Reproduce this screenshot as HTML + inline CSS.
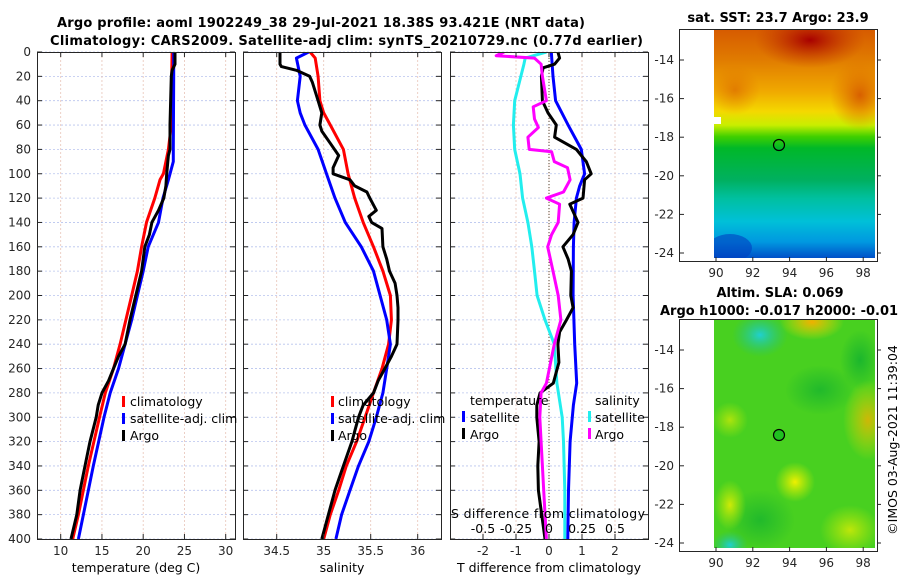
<!DOCTYPE html>
<html><head><meta charset="utf-8">
<style>
html,body{margin:0;padding:0;background:#fff;}
svg{display:block;font-family:"DejaVu Sans","Liberation Sans",sans-serif;}
.tk{font-size:12px;fill:#262626;}
.tt{font-size:13px;font-weight:bold;fill:#000;}
.lg{font-size:12.5px;fill:#000;}
</style></head>
<body>
<svg id="chart" width="900" height="580" viewBox="0 0 900 580" xmlns="http://www.w3.org/2000/svg">
<defs>
<clipPath id="c1"><rect x="37" y="52" width="198" height="487"/></clipPath>
<clipPath id="c2"><rect x="243" y="52" width="198" height="487"/></clipPath>
<clipPath id="c3"><rect x="450" y="52" width="198" height="487"/></clipPath>
<linearGradient id="sstg" x1="0" y1="0" x2="0" y2="1">
<stop offset="0" stop-color="#d65a00"/><stop offset="0.13" stop-color="#e07a00"/>
<stop offset="0.27" stop-color="#f0a800"/><stop offset="0.36" stop-color="#f4d800"/>
<stop offset="0.42" stop-color="#c8ee00"/><stop offset="0.47" stop-color="#40d000"/>
<stop offset="0.52" stop-color="#00b828"/><stop offset="0.66" stop-color="#00b060"/>
<stop offset="0.74" stop-color="#00c0a0"/><stop offset="0.84" stop-color="#00c0d8"/>
<stop offset="0.93" stop-color="#0098e0"/><stop offset="1" stop-color="#0050c8"/>
</linearGradient>
<radialGradient id="redb"><stop offset="0" stop-color="#a80000"/><stop offset="1" stop-color="#c03000" stop-opacity="0"/></radialGradient>
<radialGradient id="orb"><stop offset="0" stop-color="#d86000"/><stop offset="1" stop-color="#e07000" stop-opacity="0"/></radialGradient>
<radialGradient id="yb"><stop offset="0" stop-color="#f0f000"/><stop offset="1" stop-color="#d0f000" stop-opacity="0"/></radialGradient>
<radialGradient id="ob"><stop offset="0" stop-color="#f0b000"/><stop offset="1" stop-color="#f0e000" stop-opacity="0"/></radialGradient>
<radialGradient id="cb"><stop offset="0" stop-color="#20d0d0"/><stop offset="1" stop-color="#20c080" stop-opacity="0"/></radialGradient>
<radialGradient id="gb"><stop offset="0" stop-color="#10b030"/><stop offset="1" stop-color="#10b030" stop-opacity="0"/></radialGradient>
<clipPath id="m1"><rect x="714" y="29" width="161" height="229"/></clipPath>
<clipPath id="m2"><rect x="714" y="319" width="161" height="229"/></clipPath>
</defs>

<text class="tt" x="57" y="27" textLength="528">Argo profile: aoml 1902249_38 29-Jul-2021 18.38S 93.421E (NRT data)</text>
<text class="tt" x="50" y="45" textLength="593">Climatology: CARS2009. Satellite-adj clim: synTS_20210729.nc (0.77d earlier)</text>

<g id="grid"></g>
<g id="series"></g>
<g id="axes"></g>

<!-- legends -->
<g>
<rect x="122" y="396" width="3" height="11" fill="#f00"/><text class="lg" x="130" y="406">climatology</text>
<rect x="122" y="413" width="3" height="11" fill="#00f"/><text class="lg" x="130" y="423">satellite-adj. clim</text>
<rect x="122" y="430" width="3" height="11" fill="#000"/><text class="lg" x="130" y="440">Argo</text>
</g>
<g>
<rect x="331" y="396" width="3" height="11" fill="#f00"/><text class="lg" x="338" y="406">climatology</text>
<rect x="331" y="413" width="3" height="11" fill="#00f"/><text class="lg" x="338" y="423">satellite-adj. clim</text>
<rect x="331" y="430" width="3" height="11" fill="#000"/><text class="lg" x="338" y="440">Argo</text>
</g>
<g>
<text class="lg" x="470" y="405">temperature</text>
<rect x="462" y="411" width="3" height="11" fill="#00f"/><text class="lg" x="470" y="422">satellite</text>
<rect x="462" y="428" width="3" height="11" fill="#000"/><text class="lg" x="470" y="439">Argo</text>
<text class="lg" x="595" y="405">salinity</text>
<rect x="588" y="411" width="3" height="11" fill="#2ee"/><text class="lg" x="595" y="422">satellite</text>
<rect x="588" y="428" width="3" height="11" fill="#f0f"/><text class="lg" x="595" y="439">Argo</text>
</g>
<text class="lg" x="451" y="518" textLength="194">S difference from climatology</text>

<text class="lg" x="136" y="572" text-anchor="middle">temperature (deg C)</text>
<text class="lg" x="342" y="572" text-anchor="middle">salinity</text>
<text class="lg" x="549" y="572" text-anchor="middle">T difference from climatology</text>

<!-- maps -->
<g>
<text class="tt" x="778" y="22" text-anchor="middle">sat. SST: 23.7 Argo: 23.9</text>
<g clip-path="url(#m1)">
<rect x="714" y="29" width="161" height="229" fill="url(#sstg)"/>
<ellipse cx="810" cy="40" rx="55" ry="28" fill="url(#redb)"/>
<ellipse cx="860" cy="95" rx="30" ry="35" fill="url(#orb)"/>
<ellipse cx="735" cy="90" rx="25" ry="25" fill="url(#orb)" opacity="0.6"/>
<ellipse cx="730" cy="248" rx="22" ry="14" fill="#0040c0" opacity="0.6"/>
</g>
<rect x="714" y="117" width="7" height="7" fill="#fff"/>
<circle cx="779" cy="145" r="5.5" fill="none" stroke="#000" stroke-width="1.2"/>
<rect x="679.5" y="29.5" width="198" height="232" fill="none" stroke="#262626"/>
</g>
<g>
<text class="tt" x="780" y="297" text-anchor="middle">Altim. SLA: 0.069</text>
<text class="tt" x="660" y="315">Argo h1000: -0.017 h2000: -0.01</text>
<g clip-path="url(#m2)">
<rect x="714" y="319" width="161" height="229" fill="#48d020"/>
<ellipse cx="820" cy="390" rx="35" ry="25" fill="url(#gb)" opacity="0.7"/>
<ellipse cx="760" cy="520" rx="35" ry="30" fill="url(#gb)" opacity="0.7"/>
<ellipse cx="860" cy="360" rx="20" ry="30" fill="url(#gb)" opacity="0.8"/>
<ellipse cx="760" cy="335" rx="28" ry="22" fill="url(#cb)"/>
<ellipse cx="730" cy="545" rx="18" ry="14" fill="url(#cb)"/>
<ellipse cx="812" cy="322" rx="32" ry="18" fill="url(#ob)"/>
<ellipse cx="868" cy="420" rx="25" ry="40" fill="url(#ob)" opacity="0.8"/>
<ellipse cx="795" cy="482" rx="20" ry="20" fill="url(#yb)"/>
<ellipse cx="730" cy="505" rx="16" ry="25" fill="url(#yb)" opacity="0.8"/>
<ellipse cx="850" cy="530" rx="30" ry="25" fill="url(#yb)" opacity="0.7"/>
<ellipse cx="730" cy="420" rx="18" ry="18" fill="url(#yb)" opacity="0.6"/>
</g>
<circle cx="779" cy="435" r="5.5" fill="#20c020" stroke="#000" stroke-width="1.2"/>
<rect x="679.5" y="319.5" width="198" height="232" fill="none" stroke="#262626"/>
</g>
<g id="mapaxes"></g>
<text class="lg" transform="translate(897,440) rotate(-90)" text-anchor="middle">©IMOS 03-Aug-2021 11:39:04</text>

<script>
// ---- data ----
const depthTicks = [0,20,40,60,80,100,120,140,160,180,200,220,240,260,280,300,320,340,360,380,400];
const tTicks = [10,15,20,25,30];
const sTicks = [34.5,35,35.5,36];
const dTTicks = [-2,-1,0,1,2];
const dSTicks = [-0.5,-0.25,0,0.25,0.5];
const dSTickLabels = ["-0.5","-0.25","0","0.25","0.5"];

const tClimDepth = [0,20,60,80,100,105,120,140,160,180,200,240,260,280,300,340,380,400];
const tClim = [23.5,23.45,23.4,23.05,22.45,22.04,21.4,20.4,19.8,19.3,18.6,17.2,16.4,15.4,14.7,13.35,12.15,11.45];
const tSatDepth = [0,20,80,90,100,105,120,140,160,180,200,220,240,260,280,300,340,380,400];
const tSat = [23.7,23.7,23.65,23.65,23.25,23.05,22.4,21.85,20.6,20.0,19.3,18.6,17.8,17.0,16.0,15.25,13.95,12.75,12.15];
const tArgoDepth = [0,10,15,20,60,80,85,100,110,120,130,140,150,160,180,200,220,240,250,260,270,280,290,300,320,340,360,380,400];
const tArgo = [23.85,23.85,23.5,23.4,23.25,23.25,23.05,22.85,22.75,22.5,21.85,21.05,20.75,20.2,19.8,19.1,18.4,17.8,17.0,16.4,15.8,15.0,14.55,14.3,13.55,12.95,12.35,11.95,11.25];

const sClimDepth = [0,5,20,40,50,60,80,100,120,140,160,180,200,220,240,260,280,300,320,340,360,380,400];
const sClim = [34.855,34.91,34.94,34.96,35.0,35.07,35.21,35.26,35.33,35.42,35.53,35.63,35.71,35.72,35.69,35.62,35.53,35.44,35.35,35.24,35.16,35.07,35.0];
const sSatDepth = [0,5,20,40,50,60,80,100,120,140,160,180,200,220,240,260,280,300,320,340,360,380,400];
const sSat = [34.84,34.71,34.75,34.72,34.75,34.8,34.94,35.03,35.12,35.23,35.4,35.53,35.6,35.67,35.71,35.67,35.63,35.56,35.48,35.37,35.28,35.19,35.13];
const sArgoDepth = [0,10,12,15,20,25,40,50,60,65,75,85,95,100,105,110,115,120,130,135,140,145,160,170,180,190,200,210,220,240,250,260,270,280,290,300,320,340,360,380,400];
const sArgo = [34.535,34.535,34.55,34.71,34.85,34.88,34.94,34.98,34.96,34.98,35.07,35.16,35.1,35.1,35.28,35.33,35.46,35.49,35.56,35.48,35.51,35.62,35.63,35.67,35.7,35.76,35.78,35.79,35.79,35.78,35.72,35.65,35.58,35.53,35.42,35.37,35.3,35.21,35.12,35.05,34.98];

const dTArgoDepth = [0,5,10,13,20,40,50,60,70,80,85,90,100,105,120,125,140,150,160,170,180,200,210,220,230,240,255,265,272,280,290,300,320,340,360,380,400];
const dTArgo = [0.27,0.32,0.17,-0.18,-0.23,-0.2,-0.03,0.22,0.17,0.83,0.98,1.13,1.28,1.08,1.03,0.63,0.88,0.73,0.42,0.58,0.68,0.66,0.73,0.53,0.32,0.27,0.3,0.2,0.13,-0.27,-0.37,-0.37,-0.3,-0.34,-0.32,-0.22,-0.12];
const dTSatDepth = [0,20,40,60,80,100,110,120,140,160,200,240,272,290,320,360,400];
const dTSat = [0.07,0.12,0.2,0.58,0.98,1.08,0.93,0.83,0.76,0.74,0.73,0.78,0.84,0.74,0.64,0.59,0.57];
const dSSatDepth = [0,5,10,40,60,80,100,120,140,160,180,200,220,240,272,300,320,360,400];
const dSSat = [-0.02,-0.18,-0.19,-0.26,-0.27,-0.26,-0.22,-0.2,-0.16,-0.13,-0.11,-0.09,-0.03,0.04,0.06,0.1,0.11,0.12,0.12];
const dSArgoDepth = [0,3,5,10,20,40,45,55,62,70,80,82,90,95,105,115,120,125,140,150,160,180,200,220,240,272,280,300,320,360,400];
const dSArgo = [-0.34,-0.4,-0.11,-0.06,-0.05,-0.02,-0.12,-0.11,-0.08,-0.16,-0.15,0.02,0.04,0.14,0.16,0.11,-0.02,0.08,0.07,0.02,-0.01,0.03,0.07,0.09,0.04,-0.02,-0.06,-0.07,-0.06,-0.04,-0.02];

const lonTicks = [90,92,94,96,98];
const latTicks = [-14,-16,-18,-20,-22,-24];

// ---- scales ----
const NS = "http://www.w3.org/2000/svg";
const yD = d => 52 + d * 487 / 400;
const xT = t => 60.7 + (t - 10) * 8.25;
const xS = s => 276.7 + (s - 34.5) * 94;
const xDT = t => 549 + t * 33;
const xDS = s => 549 + s * 132;
const xLon = l => 716 + (l - 90) * 18.4;
const yLat1 = l => 60 + (-14 - l) * 19.3;
const yLat2 = l => 350 + (-14 - l) * 19.3;

function mk(tag, attrs, parent, txt) {
  const e = document.createElementNS(NS, tag);
  for (const k in attrs) e.setAttribute(k, attrs[k]);
  if (txt !== undefined) e.textContent = txt;
  parent.appendChild(e);
  return e;
}
const grid = document.getElementById('grid');
const series = document.getElementById('series');
const axes = document.getElementById('axes');
const panels = [
  {x0:37, ticks:tTicks, sx:xT, labels:tTicks.map(String)},
  {x0:243, ticks:sTicks, sx:xS, labels:sTicks.map(String)},
  {x0:450, ticks:dTTicks, sx:xDT, labels:dTTicks.map(String)}
];
panels.forEach((p, i) => {
  depthTicks.forEach(d => {
    const y = yD(d);
    const gl = mk('line', {x1:p.x0, x2:p.x0+198, y1:y, y2:y, stroke:'#b8c4ee', 'stroke-width':0.8, 'stroke-dasharray':'2,2'}, grid);
    
    
    mk('line', {x1:p.x0, x2:p.x0+5, y1:y, y2:y, stroke:'#262626'}, axes);
    mk('line', {x1:p.x0+193, x2:p.x0+198, y1:y, y2:y, stroke:'#262626'}, axes);
    if (i === 0) {
      const tl = mk('text', {x:31, y:y+4, 'text-anchor':'end', class:'tk'}, axes, String(d));
      
      
    }
  });
  p.ticks.forEach((t, j) => {
    const x = p.sx(t);
    mk('line', {x1:x, x2:x, y1:52, y2:539, stroke:'#e8c4b8', 'stroke-width':0.8, 'stroke-dasharray':'2,2'}, grid);
    mk('line', {x1:x, x2:x, y1:534, y2:539, stroke:'#262626'}, axes);
    mk('line', {x1:x, x2:x, y1:52, y2:57, stroke:'#262626'}, axes);
    const xl = mk('text', {x:x, y:555, 'text-anchor':'middle', class:'tk'}, axes, p.labels[j]);
    
    
  });
  const fr = mk('rect', {x:p.x0+0.5, y:52.5, width:198, height:487, fill:'none', stroke:'#262626'}, axes);
  
  
});
// zero line in difference panel
mk('line', {x1:549, x2:549, y1:52, y2:539, stroke:'#554433', 'stroke-width':1, 'stroke-dasharray':'1,2'}, grid);
dSTicks.forEach((s, j) => {
  const sl = mk('text', {x:xDS(s), y:533, 'text-anchor':'middle', class:'lg'}, axes, dSTickLabels[j]);
  
  
});

function line(depths, vals, sx, color, clip, name) {
  const d = depths.map((z, k) => (k ? 'L' : 'M') + sx(vals[k]).toFixed(1) + ',' + yD(z).toFixed(1)).join('');
  const p = mk('path', {d:d, fill:'none', stroke:color, 'stroke-width':3, 'stroke-linejoin':'round', 'clip-path':'url(#' + clip + ')'}, series);
  
  
}
line(tClimDepth, tClim, xT, '#ff0000', 'c1', 'temperature-climatology-line');
line(tSatDepth, tSat, xT, '#0000ff', 'c1', 'temperature-satellite-line');
line(tArgoDepth, tArgo, xT, '#000000', 'c1', 'temperature-argo-line');
line(sClimDepth, sClim, xS, '#ff0000', 'c2', 'salinity-climatology-line');
line(sSatDepth, sSat, xS, '#0000ff', 'c2', 'salinity-satellite-line');
line(sArgoDepth, sArgo, xS, '#000000', 'c2', 'salinity-argo-line');
line(dSSatDepth, dSSat, xDS, '#22eeee', 'c3', 's-diff-satellite-line');
line(dTSatDepth, dTSat, xDT, '#0000ff', 'c3', 't-diff-satellite-line');
line(dTArgoDepth, dTArgo, xDT, '#000000', 'c3', 't-diff-argo-line');
line(dSArgoDepth, dSArgo, xDS, '#ff00ff', 'c3', 's-diff-argo-line');

// map axes
const ma = document.getElementById('mapaxes');
[[yLat1, 29, 261, 277], [yLat2, 319, 551, 567]].forEach(m => {
  latTicks.forEach(l => {
    const y = m[0](l);
    mk('line', {x1:680, x2:684, y1:y, y2:y, stroke:'#262626'}, ma);
    mk('line', {x1:877, x2:881, y1:y, y2:y, stroke:'#262626'}, ma);
    const lt = mk('text', {x:674, y:y+4, 'text-anchor':'end', class:'tk'}, ma, String(l));
    
    
  });
  lonTicks.forEach(l => {
    const x = xLon(l);
    mk('line', {x1:x, x2:x, y1:m[2]-4, y2:m[2], stroke:'#262626'}, ma);
    const ln = mk('text', {x:x, y:m[3], 'text-anchor':'middle', class:'tk'}, ma, String(l));
    
    
  });
});
</script>
</svg>
</body></html>
